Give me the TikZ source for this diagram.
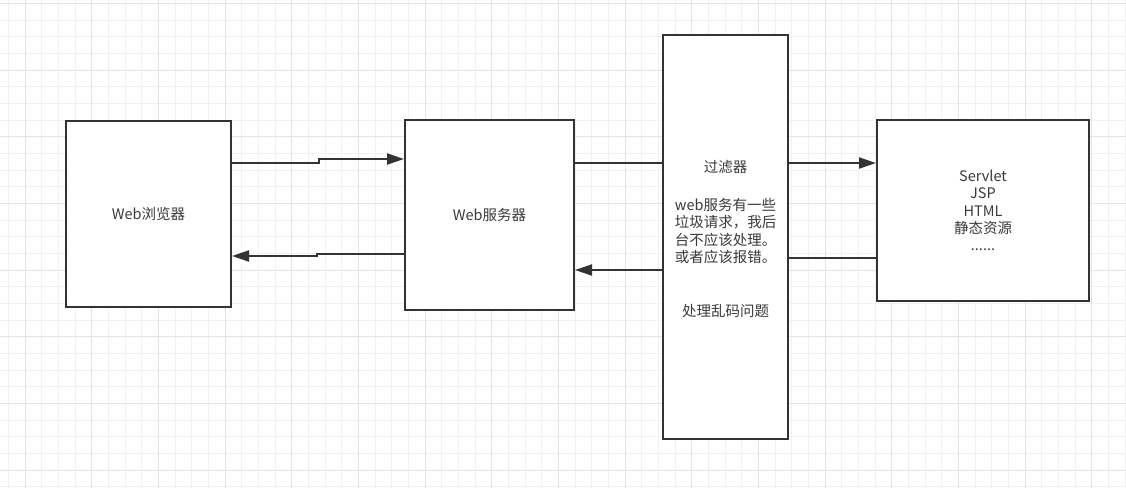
\documentclass[tikz,border=0pt]{standalone}
\usepackage{fontspec}
\setmainfont{Noto Sans CJK SC}
\usetikzlibrary{arrows.meta}
\definecolor{linegray}{HTML}{333333}
\definecolor{textgray}{HTML}{3A3A3A}
\definecolor{gridminor}{HTML}{F1F1F1}
\definecolor{gridmajor}{HTML}{E3E3E3}
\begin{document}
\begin{tikzpicture}[x=1pt,y=-1pt,
    box/.style={draw=linegray,line width=2pt,fill=white,text=textgray,
        align=center,font=\fontsize{14.5}{17.4}\selectfont,inner sep=0pt},
    conn/.style={draw=linegray,line width=2pt},
    arr/.style={conn,-{Triangle[length=17pt,width=11pt]}}]
    \useasboundingbox (0,0) rectangle (1126,488);
    \fill[white] (0,0) rectangle (1126,488);
    % grid
    \foreach \i in {0,...,67}
        \draw[gridminor,line width=0.8pt] ({8.33+16.667*\i},0) -- ++(0,488);
    \foreach \j in {0,...,29}
        \draw[gridminor,line width=0.8pt] (0,{3.33+16.667*\j}) -- ++(1126,0);
    \foreach \i in {0,...,16}
        \draw[gridmajor,line width=0.9pt] ({25+66.667*\i},0) -- ++(0,488);
    \foreach \j in {0,...,7}
        \draw[gridmajor,line width=0.9pt] (0,{3.33+66.667*\j}) -- ++(1126,0);

    \node[box,minimum width=165pt,minimum height=186pt] (browser) at (148.5,214) {Web浏览器};
    \node[box,minimum width=169pt,minimum height=190pt] (server) at (489.5,215) {Web服务器};
    \node[box,minimum width=125pt,minimum height=404pt] (filter) at (725.5,237) {};
    \node[box,minimum width=212pt,minimum height=181pt] (servlet) at (983,210.5)
        {Servlet\\JSP\\HTML\\静态资源\\......};

    \node[box,draw=none,fill=none] (filtertext) at (725.5,239)
        {过滤器\\[20.6pt]web服务有一些\\垃圾请求，我后\\台不应该处理。\\或者应该报错。\\[36.6pt]处理乱码问题};

    \draw[arr] ([yshift=51pt]browser.east) -- ++(87,0) |- ([yshift=56pt]server.west);
    \draw[arr] ([yshift=-39pt]server.west) -- ++(-87,0) |- ([yshift=-42pt]browser.east);
    \draw[conn] ([yshift=52pt]server.east) -- ([yshift=74pt]filter.west);
    \draw[arr] ([yshift=-33pt]filter.west) -- ([yshift=-55pt]server.east);
    \draw[arr] ([yshift=74pt]filter.east) -- ([yshift=47.5pt]servlet.west);
    \draw[conn] ([yshift=-47.5pt]servlet.west) -- ([yshift=-21pt]filter.east);
\end{tikzpicture}
\end{document}
